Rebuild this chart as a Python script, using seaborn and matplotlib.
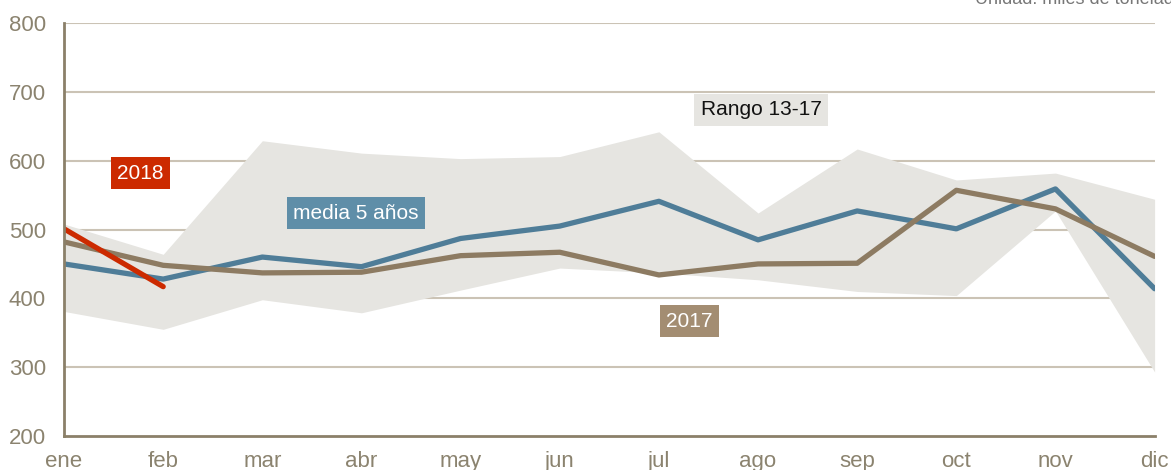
import matplotlib
matplotlib.use("Agg")
import matplotlib.pyplot as plt
import seaborn as sns
import pandas as pd
import numpy as np

# datos (miles de toneladas)
meses = ["ene", "feb", "mar", "abr", "may", "jun", "jul", "ago", "sep", "oct", "nov", "dic"]
media_5 = [450, 428, 460, 446, 487, 505, 541, 485, 527, 501, 559, 414]
serie_2017 = [482, 448, 437, 438, 462, 467, 434, 450, 451, 557, 530, 461]
serie_2018 = [501, 417]
rango_max = [508, 464, 629, 611, 603, 606, 642, 524, 617, 572, 582, 544]
rango_min = [381, 355, 398, 379, 412, 444, 437, 427, 410, 404, 527, 293]

sns.set_theme(style="white")
plt.rcParams['font.family'] = ['Liberation Sans', 'DejaVu Sans']

c_grid = "#cbc3b5"
c_axis = "#8b8069"
c_tick = "#8b836f"
c_band = "#e6e5e1"
c_media = "#4f7d98"
c_2017 = "#8d7b62"
c_2018 = "#cc2a00"

x = np.arange(len(meses))
df = pd.DataFrame({"x": x, "media 5 años": media_5, "2017": serie_2017})
df18 = pd.DataFrame({"x": x[:len(serie_2018)], "2018": serie_2018})

fig = plt.figure(figsize=(11.71, 4.70), dpi=100)
ax = fig.add_axes([0.0547, 0.0723, 0.9313, 0.8787])

for v in range(300, 801, 100):
    ax.axhline(v, color=c_grid, lw=1.5, zorder=0)

ax.fill_between(x, rango_min, rango_max, color=c_band, lw=0, zorder=1)

sns.lineplot(data=df, x="x", y="media 5 años", ax=ax, color=c_media, lw=3.8, zorder=3)
sns.lineplot(data=df, x="x", y="2017", ax=ax, color=c_2017, lw=3.8, zorder=4)
sns.lineplot(data=df18, x="x", y="2018", ax=ax, color=c_2018, lw=3.8, zorder=5)

ax.set_xlim(0, 11)
ax.set_ylim(200, 800)
ax.set_xticks(x)
ax.set_xticklabels(meses)
ax.set_yticks(range(200, 801, 100))
ax.set_xlabel("")
ax.set_ylabel("")
ax.tick_params(axis="both", length=0, labelsize=16, colors=c_tick)
ax.tick_params(axis="x", pad=11)
ax.tick_params(axis="y", pad=13)

for s in ["top", "right"]:
    ax.spines[s].set_visible(False)
for s in ["left", "bottom"]:
    ax.spines[s].set_color(c_axis)
    ax.spines[s].set_linewidth(2)
    ax.spines[s].set_zorder(6)

def etiqueta(px, py, txt, fondo, color="white"):
    ax.text(px, py, txt, ha="center", va="center", fontsize=15, color=color, zorder=7,
            bbox=dict(boxstyle="square,pad=0.3", fc=fondo, ec="none"))

etiqueta(0.77, 582, "2018", "#cc2a00")
etiqueta(2.94, 524, "media 5 años", "#5f8ea8")
etiqueta(7.03, 674, "Rango 13-17", c_band, color="#111111")
etiqueta(6.31, 367, "2017", "#a38d72")

# en el original la nota de unidades aparece cortada en el borde superior
fig.text(975 / 1171, 1 - 4 / 470, "Unidad: miles de toneladas", ha="left", va="baseline",
         fontsize=13, color="#777777")

fig.savefig("out.png", dpi=100)
